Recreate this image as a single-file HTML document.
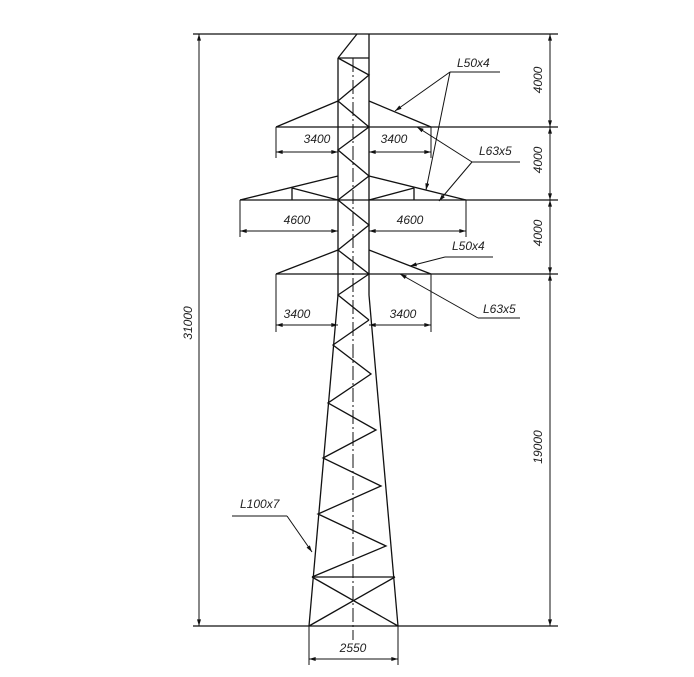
<!DOCTYPE html>
<html><head><meta charset="utf-8"><style>
html,body{margin:0;padding:0;background:#fff;}
svg{display:block}
text{font-family:"Liberation Sans",sans-serif;font-style:italic;font-size:12px;fill:#222;}
</style></head><body>
<svg width="694" height="677" viewBox="0 0 694 677" xmlns="http://www.w3.org/2000/svg">
<defs>
<marker id="a" viewBox="0 0 10 6" refX="10" refY="3" markerWidth="8" markerHeight="4" orient="auto-start-reverse" markerUnits="userSpaceOnUse"><path d="M0,0L10,3L0,6z" fill="#111"/></marker>
</defs>
<g stroke="#111" stroke-width="1.3" fill="none">
<!-- overall lines -->
<line x1="193" y1="34" x2="558" y2="34"/>
<line x1="193" y1="626" x2="558" y2="626"/>
<line x1="276" y1="127" x2="558" y2="127"/>
<line x1="240" y1="200" x2="558" y2="200"/>
<line x1="276" y1="274" x2="558" y2="274"/>
<!-- tower upper legs -->
<line x1="369" y1="34" x2="369" y2="295"/>
<line x1="338" y1="58" x2="338" y2="295"/>
<line x1="338" y1="58" x2="357" y2="34"/>
<line x1="338" y1="58" x2="369" y2="58"/>
<polyline points="338,58 369,75 338,101 369,127 338,150 369,176 338,200 369,225 338,250 369,274 338,295 369,320"/>
<!-- lower legs -->
<line x1="338" y1="295" x2="309" y2="626"/>
<line x1="369" y1="295" x2="398" y2="626"/>
<polyline points="369,320 333,345 371,374 328,403 376,430 323,458 381,486 318,514 386,546 312,577"/>
<line x1="312" y1="577" x2="395" y2="577"/>
<line x1="312" y1="577" x2="398" y2="626"/>
<line x1="395" y1="577" x2="309" y2="626"/>
<!-- crossarm 1 -->
<polyline points="338,101 276,127"/>
<polyline points="369,101 431,127"/>
<!-- crossarm 2 -->
<polyline points="338,176 240,200"/>
<polyline points="369,176 466,200"/>
<line x1="292" y1="188" x2="292" y2="200"/>
<line x1="414" y1="188" x2="414" y2="200"/>
<line x1="292" y1="188" x2="338" y2="200"/>
<line x1="414" y1="188" x2="369" y2="200"/>
<!-- crossarm 3 -->
<polyline points="338,250 276,274"/>
<polyline points="369,250 431,274"/>
</g>
<!-- centerline -->
<line x1="353" y1="58" x2="353" y2="640" stroke="#111" stroke-width="1" stroke-dasharray="14,3,2,3"/>
<g stroke="#111" stroke-width="1" fill="none">
<!-- ext lines -->
<line x1="276" y1="127" x2="276" y2="158"/><line x1="431" y1="127" x2="431" y2="158"/>
<line x1="240" y1="200" x2="240" y2="237"/><line x1="466" y1="200" x2="466" y2="237"/>
<line x1="276" y1="274" x2="276" y2="332"/><line x1="431" y1="274" x2="431" y2="332"/>
<line x1="309" y1="626" x2="309" y2="665"/><line x1="398" y1="626" x2="398" y2="665"/>
<!-- dims -->
<line x1="276" y1="152" x2="338" y2="152" marker-start="url(#a)" marker-end="url(#a)"/>
<line x1="369" y1="152" x2="431" y2="152" marker-start="url(#a)" marker-end="url(#a)"/>
<line x1="240" y1="231" x2="338" y2="231" marker-start="url(#a)" marker-end="url(#a)"/>
<line x1="369" y1="231" x2="466" y2="231" marker-start="url(#a)" marker-end="url(#a)"/>
<line x1="276" y1="325" x2="338" y2="325" marker-start="url(#a)" marker-end="url(#a)"/>
<line x1="369" y1="325" x2="431" y2="325" marker-start="url(#a)" marker-end="url(#a)"/>
<line x1="309" y1="659" x2="398" y2="659" marker-start="url(#a)" marker-end="url(#a)"/>
<line x1="199" y1="34" x2="199" y2="626" marker-start="url(#a)" marker-end="url(#a)"/>
<line x1="550" y1="34" x2="550" y2="127" marker-start="url(#a)" marker-end="url(#a)"/>
<line x1="550" y1="127" x2="550" y2="200" marker-start="url(#a)" marker-end="url(#a)"/>
<line x1="550" y1="200" x2="550" y2="274" marker-start="url(#a)" marker-end="url(#a)"/>
<line x1="550" y1="274" x2="550" y2="626" marker-start="url(#a)" marker-end="url(#a)"/>
<!-- leaders -->
<polyline points="500,72 450,72"/>
<line x1="450" y1="72" x2="395" y2="111" marker-end="url(#a)"/>
<line x1="450" y1="72" x2="426" y2="190" marker-end="url(#a)"/>
<polyline points="520,162 472,162"/>
<line x1="472" y1="162" x2="417" y2="127" marker-end="url(#a)"/>
<line x1="472" y1="162" x2="439" y2="201" marker-end="url(#a)"/>
<polyline points="493,257 445,257"/>
<line x1="445" y1="257" x2="410" y2="266" marker-end="url(#a)"/>
<polyline points="520,318 478,318"/>
<line x1="478" y1="318" x2="400" y2="274" marker-end="url(#a)"/>
<polyline points="232,516 287,516"/>
<line x1="287" y1="516" x2="312" y2="552" marker-end="url(#a)"/>
</g>
<g text-anchor="middle">
<text x="317" y="143">3400</text><text x="394" y="143">3400</text>
<text x="297" y="224">4600</text><text x="410" y="224">4600</text>
<text x="297" y="318">3400</text><text x="403" y="318">3400</text>
<text x="353" y="652">2550</text>
<text transform="translate(542,80) rotate(-90)">4000</text>
<text transform="translate(542,160) rotate(-90)">4000</text>
<text transform="translate(542,233) rotate(-90)">4000</text>
<text transform="translate(542,447) rotate(-90)">19000</text>
<text transform="translate(192,323) rotate(-90)">31000</text>
</g>
<text x="457" y="67">L50x4</text>
<text x="479" y="155">L63x5</text>
<text x="452" y="250">L50x4</text>
<text x="483" y="313">L63x5</text>
<text x="240" y="508">L100x7</text>
</svg>
</body></html>
